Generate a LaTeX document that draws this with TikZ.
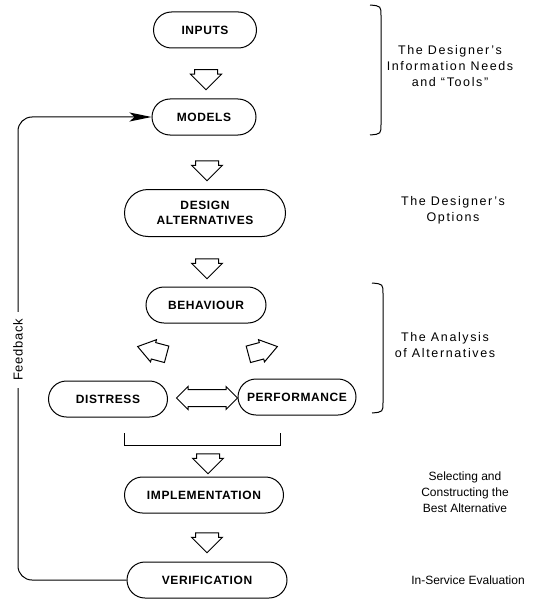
\documentclass[tikz,border=0pt]{standalone}
\usepackage{fontspec}
\setmainfont{Liberation Sans}
\newfontfamily\boxfont[LetterSpace=5]{Liberation Sans}
\newfontfamily\widefont[LetterSpace=13]{Liberation Sans}
\usepackage{tikz}
\usetikzlibrary{shapes,arrows.meta}

\begin{document}
\begin{tikzpicture}[x=1pt, y=-1pt, line width=1pt,
  stage/.style={draw, rounded rectangle, minimum height=36pt, inner sep=0pt, align=center, font=\boxfont\bfseries\fontsize{12}{15}\selectfont},
  blockarrow/.style={draw, single arrow, shape border rotate=270, single arrow head extend=4pt, minimum height=20pt, inner sep=0pt},
  sidearrow/.style={draw, single arrow, single arrow head extend=3pt, single arrow tip angle=70, minimum height=30pt, inner sep=0pt},
  note/.style={align=center, font=\fontsize{12}{16}\selectfont},
  widenote/.style={align=center, font=\widefont\fontsize{12.5}{16}\selectfont}]
\useasboundingbox (0,0) rectangle (533,599);
% Nodes
\node[stage, minimum width=103pt] (inputs) at (205,30) {INPUTS};
\node[stage, minimum width=104pt] (models) at (204,117) {MODELS};
\node[stage, minimum width=161pt, minimum height=47pt] (design) at (205,213) {DESIGN\\ALTERNATIVES};
\node[stage, minimum width=120pt] (behaviour) at (206,305) {BEHAVIOUR};
\node[stage, minimum width=119pt] (distress) at (108,399) {DISTRESS};
\node[stage, minimum width=118pt] (perform) at (297,397) {PERFORMANCE};
\node[stage, minimum width=159pt] (implement) at (204,495) {IMPLEMENTATION};
\node[stage, minimum width=160pt] (verify) at (207,580) {VERIFICATION};
% Block arrows
\node[blockarrow] (arr1) at (206,74) {\rule{22pt}{0pt}};
\node[blockarrow] (arr2) at (207,165) {\rule{22pt}{0pt}};
\node[blockarrow] (arr3) at (207,263) {\rule{22pt}{0pt}};
\node[sidearrow, rotate=165] (arrl) at (158,352) {\rule{0pt}{16pt}};
\node[sidearrow, rotate=15] (arrr) at (257,352) {\rule{0pt}{16pt}};
\node[draw, double arrow, double arrow head extend=3pt, minimum height=61pt, inner sep=0pt] (arrdp) at (207,398) {\rule{0pt}{16pt}};
\node[blockarrow] (arr4) at (208,458) {\rule{22pt}{0pt}};
\node[blockarrow] (arr5) at (207,537) {\rule{22pt}{0pt}};
% Bracket under the analysis
\coordinate (brl) at (124,433);
\coordinate (brr) at (280,433);
\draw (brl) |- (280,445) -- (brr);
% Feedback
\coordinate (fbx) at (18,0);
\draw[rounded corners=14pt, -{Stealth[length=22pt, width=9pt, inset=5pt]}] (verify.west) -| (fbx |- models.west) -- (models.west);
\node[rotate=90, fill=white, inner xsep=7pt, font=\boxfont\fontsize{13}{15}\selectfont] (fbtext) at (18,350) {Feedback};
% Side brackets
\draw (370,5) .. controls (381,6) .. (381,16) -- (381,124) .. controls (381,134) .. (370,135);
\draw (372,283) .. controls (383,284) .. (383,294) -- (383,402) .. controls (383,412) .. (372,413);
% Side notes
\node[widenote] (needs) at (450,66) {The Designer’s\\Information Needs\\and “Tools”};
\node[widenote] (options) at (453,210) {The Designer’s\\Options};
\node[widenote] (analysis) at (445,345) {The Analysis\\of Alternatives};
\node[note] (select) at (465,492) {Selecting and\\Constructing the\\Best Alternative};
\node[note] (service) at (468,580) {In-Service Evaluation};
\end{tikzpicture}
\end{document}
